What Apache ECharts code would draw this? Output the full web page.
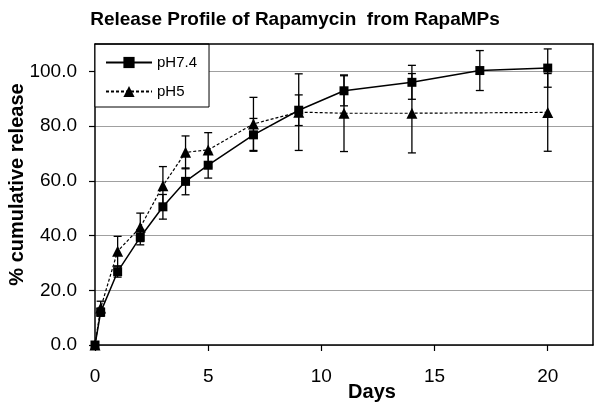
<!DOCTYPE html>
<html>
<head>
<meta charset="utf-8">
<script src="https://cdn.jsdelivr.net/npm/echarts@6/dist/echarts.min.js"></script>
<style>
html,body{margin:0;padding:0;background:#fff;}
#chart{width:600px;height:411px;}
</style>
</head>
<body>
<div id="chart"></div>
<script>
// ---- data ----
var titleText = 'Release Profile of Rapamycin  from RapaMPs';
var xName = 'Days';
var yName = '% cumulative release';
var seriesNames = ['pH7.4', 'pH5'];

var daysPh74 = [0, 0.25, 1, 2, 3, 4, 5, 7, 9, 11, 14, 17, 20];
var ph74 = [0, 12.0, 26.8, 39.4, 50.5, 59.8, 65.7, 76.8, 85.8, 92.9, 96.0, 100.3, 101.2];
var ph74Err = [0, 1.5, 2.0, 2.8, 4.5, 4.9, 4.7, 6.0, 5.6, 5.5, 6.2, 7.3, 7.0];

var daysPh5 = [0, 0.25, 1, 2, 3, 4, 5, 7, 9, 11, 14, 20];
var ph5 = [0, 13.5, 34.3, 43.0, 58.2, 70.4, 71.3, 80.8, 85.1, 84.7, 84.7, 85.0];
var ph5Err = [0, 2.5, 5.4, 5.2, 7.0, 6.0, 6.3, 9.7, 14.0, 14.0, 14.5, 14.2];

var xTicks = [0, 5, 10, 15, 20];
var yTicks = [0, 20, 40, 60, 80, 100];

// ---- build ----
function pairs(xs, ys) { return xs.map(function (x, i) { return [x, ys[i]]; }); }
function triples(xs, ys, es) { return xs.map(function (x, i) { return [x, ys[i], es[i]]; }); }

function errRender(params, api) {
  var x = api.value(0), y = api.value(1), e = api.value(2);
  if (!e) return null;
  var top = api.coord([x, y + e]);
  var bot = api.coord([x, y - e]);
  var cw = 4;
  var st = { stroke: '#000', lineWidth: 1.3 };
  return {
    type: 'group',
    children: [
      { type: 'line', shape: { x1: top[0], y1: top[1], x2: bot[0], y2: bot[1] }, style: st },
      { type: 'line', shape: { x1: top[0] - cw, y1: top[1], x2: top[0] + cw, y2: top[1] }, style: st },
      { type: 'line', shape: { x1: bot[0] - cw, y1: bot[1], x2: bot[0] + cw, y2: bot[1] }, style: st }
    ]
  };
}

var font = 'Arial, "Liberation Sans", Helvetica, sans-serif';
var chart = echarts.init(document.getElementById('chart'), null, { renderer: 'canvas' });

chart.setOption({
  animation: false,
  backgroundColor: '#fff',
  textStyle: { fontFamily: font, color: '#000' },
  title: {
    text: titleText,
    left: 290, top: 5, textAlign: 'center',
    textStyle: { fontFamily: font, fontWeight: 'bold', fontSize: 19, color: '#000' }
  },
  legend: {
    orient: 'vertical',
    left: 95, top: 44,
    padding: [11, 12, 8, 10],
    itemGap: 14,
    itemWidth: 46, itemHeight: 14,
    backgroundColor: '#fff',
    borderColor: '#000', borderWidth: 1,
    textStyle: { fontFamily: font, fontSize: 15, color: '#000' },
    data: seriesNames
  },
  grid: { left: 95, right: 7, top: 44, bottom: 66, containLabel: false, outerBoundsMode: 'none' },
  xAxis: [{
    type: 'value', min: 0, max: 22, interval: 5,
    name: xName, nameLocation: 'middle', nameGap: 37, nameMoveOverlap: false,
    nameTextStyle: { fontFamily: font, fontWeight: 'bold', fontSize: 20, color: '#000', padding: [0, 0, 0, 56] },
    axisLine: { show: true, onZero: false, lineStyle: { color: '#000', width: 1.5 } },
    axisTick: { show: true, inside: false, length: 6, customValues: xTicks, lineStyle: { color: '#000', width: 1.2 } },
    axisLabel: {
      fontFamily: font, fontSize: 19, color: '#000', margin: 22, customValues: xTicks,
      formatter: function (v) { return String(v); }
    },
    splitLine: { show: false }
  }, {
    type: 'value', position: 'top', min: 0, max: 22, z: 5,
    axisLine: { show: true, onZero: false, lineStyle: { color: '#000', width: 1.5 } },
    axisTick: { show: false }, axisLabel: { show: false }, splitLine: { show: false }
  }],
  yAxis: [{
    type: 'value', min: 0, max: 110, interval: 20,
    name: yName, nameLocation: 'middle', nameGap: 68, nameMoveOverlap: false,
    nameTextStyle: { fontFamily: font, fontWeight: 'bold', fontSize: 20, color: '#000', padding: [0, 0, 0, 20] },
    axisLine: { show: true, onZero: false, lineStyle: { color: '#000', width: 1.5 } },
    axisTick: { show: true, inside: false, length: 6, customValues: yTicks, lineStyle: { color: '#000', width: 1.2 } },
    axisLabel: {
      fontFamily: font, fontSize: 19, color: '#000', margin: 18, customValues: yTicks,
      formatter: function (v) { return Number(v).toFixed(1); }
    },
    splitLine: { show: true, lineStyle: { color: '#a0a0a0', width: 1.2 } }
  }, {
    type: 'value', position: 'right', min: 0, max: 110, z: 5,
    axisLine: { show: true, onZero: false, lineStyle: { color: '#000', width: 1.5 } },
    axisTick: { show: false }, axisLabel: { show: false }, splitLine: { show: false }
  }],
  series: [
    {
      name: seriesNames[0], type: 'line', z: 4,
      data: pairs(daysPh74, ph74),
      symbol: 'rect', symbolSize: 9,
      lineStyle: { color: '#000', width: 1.5, type: 'solid' },
      itemStyle: { color: '#000' }
    },
    {
      name: seriesNames[1], type: 'line', z: 4,
      data: pairs(daysPh5, ph5),
      symbol: 'triangle', symbolSize: 11,
      lineStyle: { color: '#000', width: 1.2, type: [3, 2] },
      itemStyle: { color: '#000' }
    },
    {
      type: 'custom', z: 3, renderItem: errRender,
      encode: { x: 0, y: 1 }, silent: true,
      data: triples(daysPh74, ph74, ph74Err)
    },
    {
      type: 'custom', z: 3, renderItem: errRender,
      encode: { x: 0, y: 1 }, silent: true,
      data: triples(daysPh5, ph5, ph5Err)
    }
  ]
});
</script>
</body>
</html>
